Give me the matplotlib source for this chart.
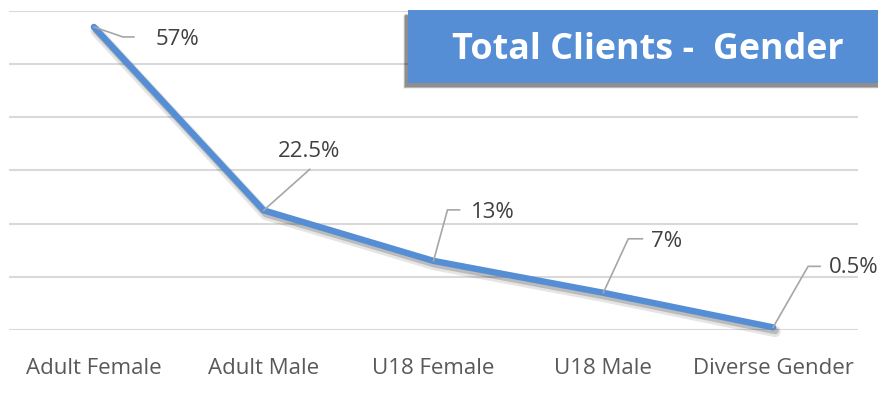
import matplotlib
matplotlib.use('Agg')
import matplotlib.pyplot as plt
import matplotlib.patheffects as pe
import matplotlib.transforms as mtransforms
from matplotlib.patches import Rectangle

categories = ['Adult Female', 'Adult Male', 'U18 Female', 'U18 Male', 'Diverse Gender']
values = [57, 22.5, 13, 7, 0.5]
labels = ['57%', '22.5%', '13%', '7%', '0.5%']
title = 'Total Clients -  Gender'

# leader / label offsets in pixels: (diag end, horizontal end, text anchor, ha)
label_pos = [
    ((29, -10), (40, -10), (62, -13), 'left'),
    ((46, 41), (46, 41), (45, 59), 'center'),
    ((14, 51), (26, 51), (37, 48), 'left'),
    ((25, 54), (39, 54), (48, 51), 'left'),
    ((35, 61), (47, 61), (56, 60), 'left'),
]

blue = '#558ED5'
plt.rcParams['font.family'] = ['Open Sans', 'DejaVu Sans']

fig = plt.figure(figsize=(8.79, 4.19), dpi=100)
ax = fig.add_axes([9 / 879, 1 - 330 / 419, 849 / 879, 319 / 419])

x = list(range(len(categories)))
ax.set_xlim(-0.5, len(categories) - 0.5)
ax.set_ylim(0, 60)

ax.plot(x, values, color=blue, linewidth=4.6, solid_capstyle='round', solid_joinstyle='round',
        clip_on=False, zorder=5,
        path_effects=[pe.SimpleLineShadow(offset=(1.5, -3), shadow_color='black', alpha=0.1, linewidth=8),
                      pe.SimpleLineShadow(offset=(1.5, -2.5), shadow_color='black', alpha=0.18, linewidth=5),
                      pe.Normal()])

ident = mtransforms.IdentityTransform()
for i, (v, lab, pos) in enumerate(zip(values, labels, label_pos)):
    d1, d2, t, ha = pos
    base = ax.transData.transform((i, v))
    xs = [base[0], base[0] + d1[0], base[0] + d2[0]]
    ys = [base[1], base[1] + d1[1], base[1] + d2[1]]
    ax.plot(xs, ys, color='#A6A6A6', linewidth=1.2, transform=ident, zorder=6, clip_on=False)
    ax.text(base[0] + t[0], base[1] + t[1], lab, transform=ident, ha=ha, va='center',
            fontsize=16, color='#404040', zorder=7)

ax.set_yticks(range(0, 61, 10))
ax.yaxis.grid(True, color='#D9D9D9', linewidth=1.5)
ax.set_axisbelow(True)
ax.tick_params(axis='y', left=False, labelleft=False)
ax.set_xticks(x)
ax.set_xticklabels(categories, fontsize=16, color='#595959')
ax.tick_params(axis='x', length=0, pad=20)
for s in ax.spines.values():
    s.set_visible(False)

# title box with shadow
x0, y0 = 408 / 879, 1 - 83 / 419
w, h = 1.0 - x0 + 0.01, 73 / 419
for k, a in enumerate([0.06, 0.1, 0.15, 0.22]):
    off = (4 - k) * 0.8
    fig.patches.append(Rectangle((x0 - (3 + off * 0.5) / 879, y0 - (4 + off * 0.5) / 419), w, h,
                                 transform=fig.transFigure, facecolor='black', alpha=a,
                                 edgecolor='none', zorder=8))
fig.patches.append(Rectangle((x0, y0), w, h, transform=fig.transFigure, facecolor=blue,
                             edgecolor='none', zorder=9))
fig.text((453 + 843) / 2 / 879, y0 + h / 2 - 3 / 419, title, ha='center', va='center', color='white',
         fontsize=25.8, fontweight='bold', zorder=10)

fig.savefig('out.png', dpi=100)
